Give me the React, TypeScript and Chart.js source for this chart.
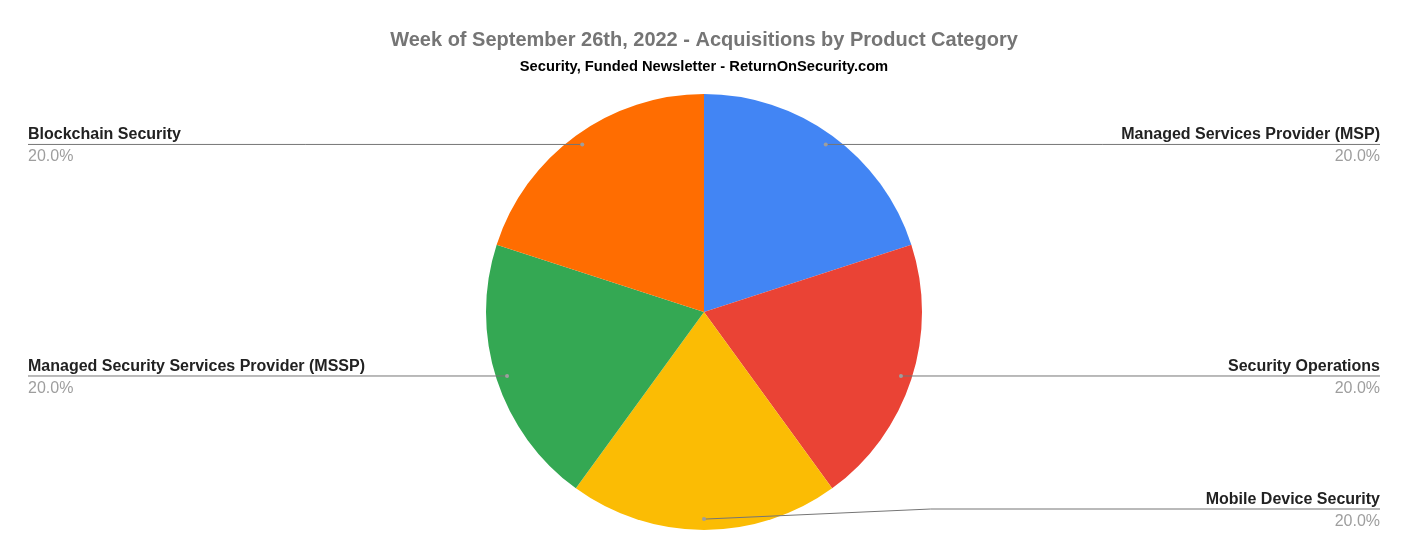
import React, { useEffect, useRef } from "react";
import { Chart, registerables } from "chart.js";

Chart.register(...registerables);

const categories = [
  "Managed Services Provider (MSP)",
  "Security Operations",
  "Mobile Device Security",
  "Managed Security Services Provider (MSSP)",
  "Blockchain Security",
];
const values = [1, 1, 1, 1, 1];
const colors = ["#4285f4", "#ea4335", "#fbbc04", "#34a853", "#ff6d01"];
const titleText = "Week of September 26th, 2022 - Acquisitions by Product Category";
const subtitleText = "Security, Funded Newsletter - ReturnOnSecurity.com";

const FONT = "'Liberation Sans', Arial, sans-serif";

const leaderPlugin = {
  id: "leaderLabels",
  afterDatasetsDraw(chart: any) {
    const ctx = chart.ctx;
    const meta = chart.getDatasetMeta(0);
    const ds = chart.data.datasets[0];
    const total = (ds.data as number[]).reduce((a, b) => a + b, 0);
    const W = chart.width;
    const H = chart.height;
    const margin = 28;
    meta.data.forEach((arc: any, i: number) => {
      const p = arc.getProps(["x", "y", "startAngle", "endAngle", "outerRadius"], true);
      const mid = (p.startAngle + p.endAngle) / 2;
      const r = p.outerRadius * 0.95;
      const px = p.x + Math.cos(mid) * r;
      const py = p.y + Math.sin(mid) * r;
      const right = Math.cos(mid) >= -1e-6;
      const lineY = Math.min(py, H - 49);
      const endX = right ? W - margin : margin;
      ctx.save();
      ctx.strokeStyle = "#757575";
      ctx.lineWidth = 1;
      ctx.beginPath();
      ctx.moveTo(px, py);
      if (Math.abs(lineY - py) > 0.5) {
        const bendX = right ? p.x + p.outerRadius * 1.04 : p.x - p.outerRadius * 1.04;
        ctx.lineTo(bendX, lineY);
      }
      ctx.lineTo(endX, lineY);
      ctx.stroke();
      ctx.fillStyle = "#9e9e9e";
      ctx.beginPath();
      ctx.arc(px, py, 2, 0, Math.PI * 2);
      ctx.fill();
      ctx.textAlign = right ? "right" : "left";
      ctx.textBaseline = "alphabetic";
      ctx.font = `bold 16px ${FONT}`;
      ctx.fillStyle = "#222222";
      ctx.fillText(chart.data.labels[i], endX, lineY - 5);
      ctx.font = `16px ${FONT}`;
      ctx.fillStyle = "#9e9e9e";
      const pct = ((ds.data[i] / total) * 100).toFixed(1) + "%";
      ctx.fillText(pct, endX, lineY + 17);
      ctx.restore();
    });
  },
};

export default function App() {
  const ref = useRef<HTMLCanvasElement>(null);
  useEffect(() => {
    document.body.style.margin = "0";
    const chart = new Chart(ref.current!, {
      type: "pie",
      data: {
        labels: categories,
        datasets: [
          {
            data: values,
            backgroundColor: colors,
            borderWidth: 0,
          },
        ],
      },
      options: {
        animation: false,
        responsive: false,
        maintainAspectRatio: false,
        layout: { padding: { top: 0, bottom: 28, left: 0, right: 0 } },
        plugins: {
          legend: { display: false },
          tooltip: { enabled: false },
          title: {
            display: true,
            text: titleText,
            color: "#757575",
            font: { family: FONT, size: 20, weight: "bold" },
            padding: { top: 28, bottom: 6.18 },
          },
          subtitle: {
            display: true,
            text: subtitleText,
            color: "#000000",
            font: { family: FONT, size: 14.7, weight: "bold" },
            padding: { top: 0, bottom: 18.18 },
          },
        },
      },
      plugins: [leaderPlugin],
    });
    return () => chart.destroy();
  }, []);
  return (
    <div style={{ position: "absolute", left: 0, top: 0, width: 1408, height: 558, background: "#fff" }}>
      <canvas ref={ref} width={1408} height={558} style={{ display: "block" }} />
    </div>
  );
}
